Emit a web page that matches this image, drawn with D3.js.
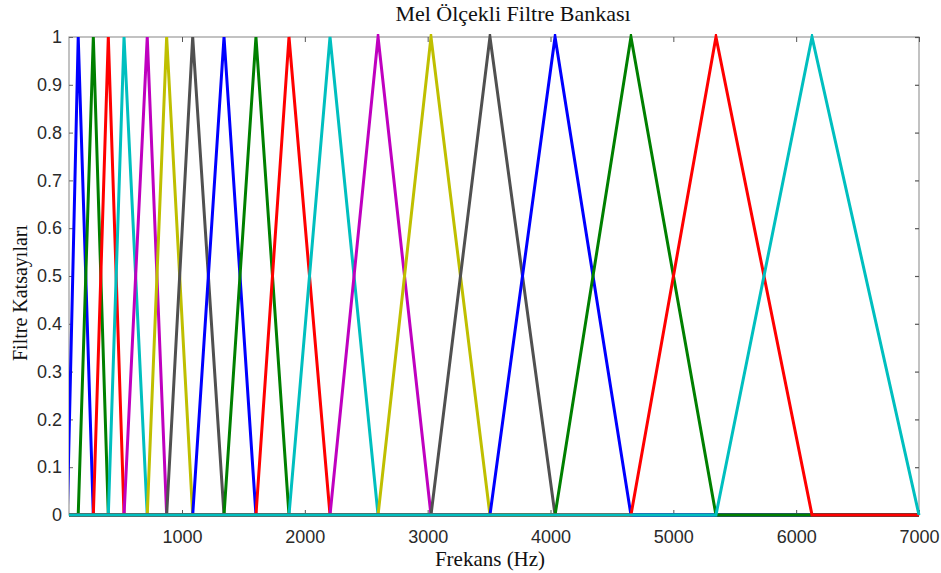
<!DOCTYPE html>
<html>
<head>
<meta charset="utf-8">
<script src="https://cdn.jsdelivr.net/npm/d3@7"></script>
<style>
  html, body { margin: 0; padding: 0; background: #fff; }
  svg { display: block; }
</style>
</head>
<body>
<svg id="chart" width="941" height="573"></svg>
<script>
// Triangular mel filter bank: each filter rises from the previous peak,
// reaches 1 at its own peak and falls to 0 at the next peak.
const peakFreqsHz = [155, 278, 400, 528, 717, 875, 1087, 1342, 1602, 1871,
                     2205, 2596, 3027, 3507, 4037, 4655, 5347, 6129];
const lowEdgeHz = 66;      // lower foot of the first filter
const highEdgeHz = 7000;   // upper foot of the last filter
const freqRangeHz = [80, 7000];

const xTickValues = [1000, 2000, 3000, 4000, 5000, 6000, 7000];
const yTickValues = [0, 0.1, 0.2, 0.3, 0.4, 0.5, 0.6, 0.7, 0.8, 0.9, 1];
const yTickLabels = ["0", "0.1", "0.2", "0.3", "0.4", "0.5", "0.6", "0.7", "0.8", "0.9", "1"];

const titleText = "Mel Ölçekli Filtre Bankası";
const xLabelText = "Frekans (Hz)";
const yLabelText = "Filtre Katsayıları";

// Line colour cycle
const palette = ["#0000ff", "#008000", "#ff0000", "#00bfbf", "#bf00bf", "#bfbf00", "#505050"];

const margin = { left: 69, right: 22, top: 37, bottom: 58 };
const W = 941, H = 573;
const plotW = W - margin.left - margin.right;
const plotH = H - margin.top - margin.bottom;

const svg = d3.select("#chart");
const g = svg.append("g").attr("transform", `translate(${margin.left},${margin.top})`);

const x = d3.scaleLinear().domain(freqRangeHz).range([0, plotW]);
const y = d3.scaleLinear().domain([0, 1]).range([plotH, 0]);

// axes box
g.append("rect")
  .attr("x", 0).attr("y", 0).attr("width", plotW).attr("height", plotH)
  .attr("fill", "none").attr("stroke", "#9a9a9a").attr("stroke-width", 1.2);

// tick labels and inward tick marks
const tickFont = "'Liberation Sans', Arial, Helvetica, sans-serif";

const xAxis = g.append("g")
  .attr("transform", `translate(0,${plotH})`)
  .call(d3.axisBottom(x).tickValues(xTickValues).tickFormat(d3.format("d"))
        .tickSizeInner(-5).tickSizeOuter(0).tickPadding(15));
xAxis.select(".domain").remove();
xAxis.selectAll("line").attr("stroke", "#555").attr("stroke-width", 1);
xAxis.selectAll("text").attr("font-family", tickFont).attr("font-size", 18).attr("fill", "#2a2a2a");

const yAxis = g.append("g")
  .call(d3.axisLeft(y).tickValues(yTickValues).tickFormat((d, i) => yTickLabels[i])
        .tickSizeInner(-4).tickSizeOuter(0).tickPadding(7));
yAxis.select(".domain").remove();
yAxis.selectAll("line").attr("stroke", "#666").attr("stroke-width", 1);
yAxis.selectAll("text").attr("font-family", tickFont).attr("font-size", 18).attr("fill", "#2a2a2a");

// mirrored tick marks on the top and right edges
const xTop = g.append("g")
  .call(d3.axisTop(x).tickValues(xTickValues).tickFormat("").tickSizeInner(-5).tickSizeOuter(0));
xTop.select(".domain").remove();
xTop.selectAll("line").attr("stroke", "#555").attr("stroke-width", 1);

const yRight = g.append("g")
  .attr("transform", `translate(${plotW},0)`)
  .call(d3.axisRight(y).tickValues(yTickValues).tickFormat("").tickSizeInner(-4).tickSizeOuter(0));
yRight.select(".domain").remove();
yRight.selectAll("line").attr("stroke", "#555").attr("stroke-width", 1.2);

// filters
svg.append("defs").append("clipPath").attr("id", "plotClip")
  .append("rect").attr("x", 0).attr("y", -3).attr("width", plotW + 2).attr("height", plotH + 6);

const edges = [lowEdgeHz, ...peakFreqsHz, highEdgeHz];
const filters = peakFreqsHz.map((p, i) => {
  const lo = edges[i], hi = edges[i + 2];
  return [
    [Math.min(freqRangeHz[0], lo), 0],
    [lo, 0],
    [p, 1],
    [hi, 0],
    [Math.max(freqRangeHz[1], hi), 0]
  ];
});

const line = d3.line().x(d => x(d[0])).y(d => y(d[1]));

g.append("g").attr("clip-path", "url(#plotClip)")
  .selectAll("path").data(filters).join("path")
  .attr("d", line)
  .attr("fill", "none")
  .attr("stroke", (d, i) => palette[i % palette.length])
  .attr("stroke-width", 3)
  .attr("stroke-linejoin", "miter")
  .attr("stroke-miterlimit", 10);

// title and axis labels
const serif = "'Liberation Serif', 'Times New Roman', Times, serif";
svg.append("text")
  .attr("x", 513).attr("y", 21)
  .attr("text-anchor", "middle")
  .attr("font-family", serif).attr("font-size", 22).attr("fill", "#111")
  .text(titleText);

svg.append("text")
  .attr("x", 490).attr("y", 566)
  .attr("text-anchor", "middle")
  .attr("font-family", serif).attr("font-size", 21).attr("fill", "#111")
  .text(xLabelText);

svg.append("text")
  .attr("transform", `translate(27,${293}) rotate(-90)`)
  .attr("text-anchor", "middle")
  .attr("font-family", serif).attr("font-size", 20).attr("fill", "#111")
  .text(yLabelText);
</script>
</body>
</html>
